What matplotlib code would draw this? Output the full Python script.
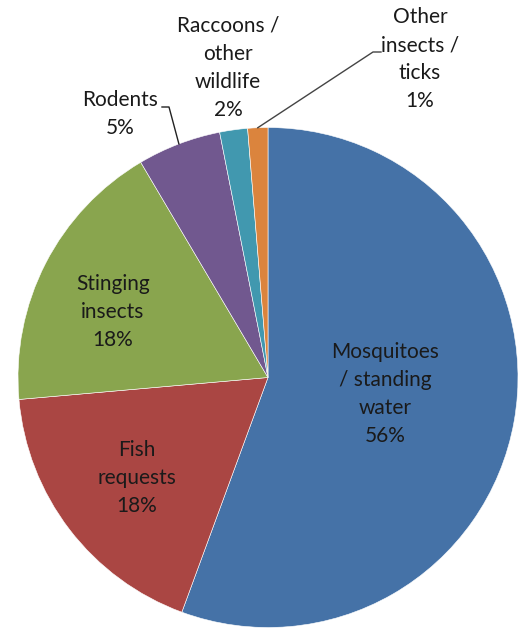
import numpy as np
import matplotlib
matplotlib.use("Agg")
import matplotlib.pyplot as plt

categories = ["Mosquitoes\n/ standing\nwater", "Fish\nrequests", "Stinging\ninsects",
              "Rodents", "Raccoons /\nother\nwildlife", "Other\ninsects /\nticks"]
values = [55.6, 18.0, 17.9, 5.4, 1.8, 1.3]
pct_labels = ["56%", "18%", "18%", "5%", "2%", "1%"]
colors = ["#4572A7", "#AA4643", "#89A54E", "#71588F", "#4198AF", "#DB843D"]

W, H = 522, 629
fig = plt.figure(figsize=(W / 100, H / 100), dpi=100)
ax = fig.add_axes([0, 0, 1, 1])

cx, cy, R = 268, H - 377.5, 250
wedges, _ = ax.pie(values, colors=colors, startangle=90, counterclock=False,
                   center=(cx, cy), radius=R, frame=True,
                   wedgeprops=dict(linewidth=0.4, edgecolor="white"))
ax.set_xlim(0, W)
ax.set_ylim(0, H)
ax.set_aspect("equal")
ax.axis("off")

font = dict(family=["Lato", "DejaVu Sans"], fontsize=15, color="#1a1a1a",
            ha="center", va="center", linespacing=1.5)

# label positions in pixel coordinates (top-left origin)
label_pos = [(385, 394), (137, 478), (113, 312), (120, 114), (228, 68), (420, 59)]
for cat, pct, (px, py) in zip(categories, pct_labels, label_pos):
    ax.text(px, H - py, f"{cat}\n{pct}", **font)

def edge_point(w):
    mid = np.deg2rad((w.theta1 + w.theta2) / 2)
    return cx + R * np.cos(mid), cy + R * np.sin(mid)

# leader for Rodents
ex, ey = edge_point(wedges[3])
ax.plot([162, 169, ex], [H - 107, H - 107, ey], color="#222222", lw=1)
# leader for Other insects
ex, ey = edge_point(wedges[5])
ax.plot([ex, 373, 381], [ey, H - 52, H - 52], color="#444444", lw=1)

fig.savefig("out.png", dpi=100)
